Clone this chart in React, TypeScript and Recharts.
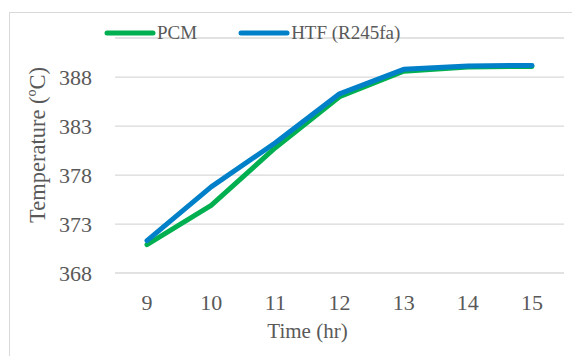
import { LineChart, Line, XAxis, YAxis, CartesianGrid, Legend } from 'recharts'

const hours = ['9', '10', '11', '12', '13', '14', '15']
const pcm = [370.9, 374.9, 380.8, 386.0, 388.6, 389.05, 389.1]
const htf = [371.3, 376.8, 381.3, 386.3, 388.8, 389.15, 389.2]
const yTicks = [368, 373, 378, 383, 388]

const data = hours.map((h, i) => ({ hour: h, pcm: pcm[i], htf: htf[i] }))

const font = '"Liberation Serif", "Times New Roman", serif'
const textColor = '#595959'

const series = [
  { key: 'pcm', name: 'PCM', color: '#00b050' },
  { key: 'htf', name: 'HTF (R245fa)', color: '#0080c8' },
]

function LegendContent() {
  return (
    <div style={{ display: 'flex', fontFamily: font, fontSize: 19, color: textColor, lineHeight: '22px' }}>
      {series.map((s, i) => (
        <div key={s.key} style={{ display: 'flex', alignItems: 'center', marginRight: i === 0 ? 41 : 0 }}>
          <svg width={52} height={8}>
            <line x1={3} y1={4} x2={49} y2={4} stroke={s.color} strokeWidth={5} strokeLinecap="round" />
          </svg>
          <span style={{ marginLeft: 1 }}>{s.name}</span>
        </div>
      ))}
    </div>
  )
}

function XTitle({ viewBox }: any) {
  const x = viewBox.x + viewBox.width / 2 - 32
  return (
    <text x={x} y={338} textAnchor="middle" fill={textColor} fontSize={21} fontFamily={font}>
      Time (hr)
    </text>
  )
}

function YTitle() {
  return (
    <text x={45} y={145} transform="rotate(-90, 45, 145)" textAnchor="middle" fill={textColor} fontSize={22.5} fontFamily={font}>
      Temperature (ºC)
    </text>
  )
}

export default function App() {
  return (
    <div style={{ position: 'fixed', left: 0, top: 0, width: 572, height: 356, background: '#fff', fontFamily: font }}>
      <style>{`.recharts-wrapper text, .recharts-text { font-family: ${font}; }`}</style>
      <div
        style={{
          position: 'absolute',
          left: 9,
          top: 12,
          width: 575,
          height: 360,
          border: '1px solid #d9d9d9',
        }}
      />
      <LineChart width={572} height={356} data={data} margin={{ top: 16, right: 8, left: 0, bottom: 0 }} style={{ fontFamily: font }}>
        <CartesianGrid vertical={false} stroke="#d9d9d9" strokeWidth={1.3} />
        <XAxis
          dataKey="hour"
          padding={{ left: 32, right: 32 }}
          axisLine={false}
          tickLine={false}
          height={83}
          tickMargin={15}
          tick={{ fontSize: 22, fill: textColor, fontFamily: font }}
          label={<XTitle />}
        />
        <YAxis
          domain={[368, 392]}
          ticks={yTicks}
          width={115}
          axisLine={false}
          tickLine={false}
          tickMargin={17}
          tick={{ fontSize: 22, fill: textColor, fontFamily: font }}
          label={<YTitle />}
        />
        <Legend verticalAlign="top" align="left" height={22} wrapperStyle={{ left: 104, top: 22, width: 400 }} content={<LegendContent />} />
        {series.map((s) => (
          <Line
            key={s.key}
            type="linear"
            dataKey={s.key}
            name={s.name}
            stroke={s.color}
            strokeWidth={5}
            dot={false}
            strokeLinecap="round"
            strokeLinejoin="round"
            isAnimationActive={false}
          />
        ))}
      </LineChart>
    </div>
  )
}
